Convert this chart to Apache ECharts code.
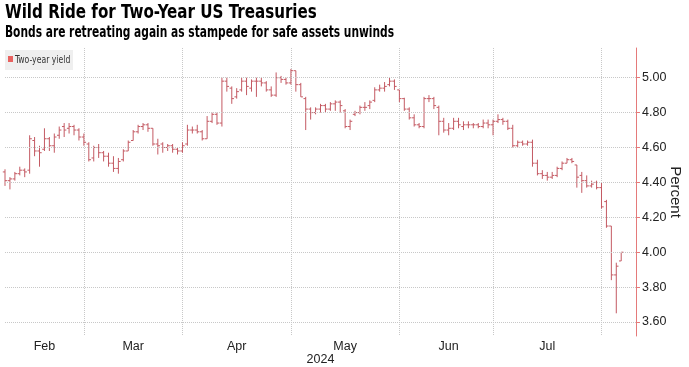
<!DOCTYPE html>
<html><head><meta charset="utf-8">
<script src="https://cdn.jsdelivr.net/npm/echarts@6/dist/echarts.min.js"></script>
<style>html,body{margin:0;padding:0;background:#fff}#c{width:689px;height:367px}</style>
</head><body><div id="c"></div>
<script>
// Trading days shown (2024); last three August days are empty padding on the axis
const febDays=[6,7,8,9,12,13,14,15,16,20,21,22,23,26,27,28,29];
const marDays=[1,4,5,6,7,8,11,12,13,14,15,18,19,20,21,22,25,26,27,28];
const aprDays=[1,2,3,4,5,8,9,10,11,12,15,16,17,18,19,22,23,24,25,26,29,30];
const mayDays=[1,2,3,6,7,8,9,10,13,14,15,16,17,20,21,22,23,24,28,29,30,31];
const junDays=[3,4,5,6,7,10,11,12,13,14,17,18,20,21,24,25,26,27,28];
const julDays=[1,2,3,5,8,9,10,11,12,15,16,17,18,19,22,23,24,25,26,29,30,31];
const augDays=[1,2,5,6,7,8,9];
const monthNames=['Jan','Feb','Mar','Apr','May','Jun','Jul','Aug'];
const labelMonths=['Feb','Mar','Apr','May','Jun','Jul'];

const opens=[4.46,4.41,4.42,4.45,4.47,4.47,4.64,4.58,4.59,4.65,4.61,4.67,4.72,4.71,4.72,4.70,4.66,
4.62,4.54,4.60,4.57,4.55,4.51,4.48,4.53,4.58,4.64,4.69,4.72,4.73,4.71,4.62,4.62,4.60,4.61,4.59,4.58,
4.62,4.70,4.70,4.69,4.65,4.75,4.79,4.74,4.98,4.94,4.89,4.93,4.98,4.94,4.98,4.98,4.97,4.93,4.90,5.00,4.99,4.97,
5.04,4.96,4.88,4.82,4.80,4.82,4.84,4.82,4.85,4.86,4.81,4.72,4.79,4.80,4.83,4.84,4.87,4.93,4.94,4.96,4.98,4.93,
4.88,4.82,4.77,4.73,4.72,4.88,4.88,4.83,4.75,4.70,4.71,4.75,4.72,4.73,4.73,4.73,4.72,4.74,4.73,
4.75,4.76,4.75,4.71,4.61,4.63,4.62,4.63,4.51,4.45,4.44,4.43,4.44,4.48,4.51,4.53,4.50,4.44,4.41,4.38,4.40,4.37,
4.29,4.15,3.87,3.95];
const highs=[4.475,4.43,4.46,4.49,4.48,4.67,4.66,4.61,4.71,4.66,4.68,4.72,4.74,4.74,4.73,4.71,4.68,
4.63,4.61,4.62,4.58,4.57,4.55,4.54,4.59,4.64,4.70,4.73,4.74,4.74,4.71,4.65,4.63,4.62,4.62,4.60,4.63,
4.73,4.72,4.73,4.70,4.78,4.80,4.80,5.00,5.00,4.95,4.94,5.00,5.00,4.99,5.00,5.00,4.98,4.95,5.03,5.01,5.00,5.05,
5.04,4.97,4.89,4.83,4.83,4.85,4.85,4.86,4.87,4.87,4.82,4.76,4.81,4.84,4.86,4.87,4.945,4.96,4.975,5.00,4.99,4.93,
4.885,4.83,4.79,4.74,4.89,4.90,4.89,4.84,4.77,4.74,4.77,4.77,4.75,4.75,4.74,4.74,4.76,4.76,4.76,
4.79,4.77,4.76,4.73,4.64,4.64,4.64,4.645,4.53,4.47,4.46,4.46,4.49,4.52,4.54,4.54,4.50,4.46,4.44,4.41,4.41,4.40,
4.30,4.15,3.94,4.00];
const lows=[4.38,4.36,4.41,4.44,4.43,4.45,4.55,4.49,4.58,4.58,4.57,4.65,4.66,4.68,4.67,4.64,4.61,
4.52,4.52,4.54,4.52,4.49,4.46,4.45,4.52,4.58,4.64,4.68,4.70,4.69,4.61,4.56,4.57,4.58,4.57,4.56,4.57,
4.61,4.68,4.68,4.64,4.65,4.74,4.73,4.72,4.92,4.85,4.88,4.92,4.90,4.92,4.89,4.95,4.92,4.89,4.89,4.97,4.96,4.96,
4.92,4.89,4.70,4.76,4.79,4.80,4.80,4.81,4.81,4.80,4.71,4.70,4.78,4.79,4.81,4.82,4.86,4.92,4.92,4.95,4.93,4.86,
4.81,4.76,4.72,4.71,4.71,4.86,4.82,4.67,4.685,4.67,4.70,4.71,4.70,4.71,4.71,4.71,4.71,4.71,4.67,
4.74,4.73,4.70,4.60,4.60,4.61,4.61,4.49,4.44,4.42,4.41,4.42,4.43,4.47,4.51,4.51,4.37,4.34,4.37,4.37,4.36,4.25,
4.14,3.84,3.65,3.95];
const closes=[4.41,4.42,4.45,4.47,4.46,4.65,4.58,4.57,4.65,4.61,4.66,4.70,4.70,4.72,4.70,4.66,4.63,
4.53,4.60,4.57,4.55,4.51,4.48,4.52,4.58,4.63,4.69,4.72,4.73,4.71,4.62,4.61,4.60,4.61,4.59,4.58,4.61,
4.70,4.70,4.69,4.65,4.75,4.79,4.74,4.98,4.95,4.88,4.92,4.98,4.95,4.98,4.98,4.97,4.93,4.90,5.00,4.99,4.97,5.04,
4.96,4.89,4.82,4.80,4.82,4.84,4.82,4.85,4.86,4.84,4.72,4.75,4.80,4.83,4.83,4.86,4.93,4.94,4.95,4.98,4.95,4.88,
4.82,4.77,4.73,4.72,4.88,4.88,4.84,4.75,4.70,4.71,4.75,4.73,4.73,4.73,4.73,4.72,4.74,4.73,4.75,
4.76,4.75,4.71,4.61,4.63,4.62,4.63,4.51,4.45,4.44,4.43,4.44,4.48,4.51,4.53,4.52,4.43,4.41,4.38,4.39,4.37,4.26,
4.15,3.87,3.92,4.00];
const yTicks=[3.6,3.8,4.0,4.2,4.4,4.6,4.8,5.0];

const pad=n=>String(n).padStart(2,'0');
const categories=[], monthOf=[];
[[1,febDays],[2,marDays],[3,aprDays],[4,mayDays],[5,junDays],[6,julDays],[7,augDays]].forEach(([m,days])=>{
  days.forEach(d=>{categories.push('2024-'+pad(m+1)+'-'+pad(d));monthOf.push(m);});
});
const nData=closes.length;
const splitIdx=[];
for(let i=0;i<nData;i++){ if(monthOf[i+1]!==undefined && monthOf[i]!==monthOf[i+1]) splitIdx.push(i); }
const labelIdx={};
labelMonths.forEach(name=>{
  const m=monthNames.indexOf(name);
  const idx=monthOf.map((v,i)=>v===m?i:-1).filter(i=>i>=0);
  labelIdx[Math.floor((idx[0]+idx[idx.length-1])/2)]=name;
});
const ohlc=closes.map((c,i)=>[i,opens[i],highs[i],lows[i],c]);

const BAR='#c45a63';
const COND="'DejaVu Sans Condensed','DejaVu Sans',sans-serif";
const REG="'Liberation Sans',Arial,sans-serif";

function renderItem(params,api){
  const i=api.value(0);
  const x=api.coord([i,api.value(1)])[0];
  const yo=api.coord([i,api.value(1)])[1];
  const yh=api.coord([i,api.value(2)])[1];
  const yl=api.coord([i,api.value(3)])[1];
  const yc=api.coord([i,api.value(4)])[1];
  const st={stroke:BAR,lineWidth:1};
  return {type:'group',children:[
    {type:'line',shape:{x1:x,y1:yh,x2:x,y2:yl},style:st},
    {type:'line',shape:{x1:x-2.2,y1:yo,x2:x,y2:yo},style:st},
    {type:'line',shape:{x1:x,y1:yc,x2:x+2.2,y2:yc},style:st}
  ]};
}

const chart=echarts.init(document.getElementById('c'),null,{renderer:'canvas'});
chart.setOption({
  animation:false,
  backgroundColor:'#fff',
  graphic:[
    {type:'text',left:5,top:4,scaleX:0.885,originX:0,
      style:{text:'Wild Ride for Two-Year US Treasuries',font:'bold 19px '+COND,fill:'#000'}},
    {type:'text',left:5,top:26,scaleX:0.79,originX:0,
      style:{text:'Bonds are retreating again as stampede for safe assets unwinds',font:'bold 15px '+COND,fill:'#000'}},
    {type:'rect',shape:{x:5,y:50,width:68,height:20},style:{fill:'#efefef'}},
    {type:'rect',shape:{x:8,y:56,width:5,height:6},style:{fill:'#e8615f'}},
    {type:'text',x:15,y:60,scaleX:0.78,
      style:{text:'Two-year yield',font:'11px '+COND,fill:'#333',verticalAlign:'middle'}}
  ],
  grid:{left:5,right:53,top:48,bottom:31,containLabel:false,outerBoundsMode:'none'},
  xAxis:{
    type:'category',data:categories,boundaryGap:false,
    axisLine:{show:false},axisTick:{show:false},
    axisLabel:{
      interval:(i)=>labelIdx[i]!==undefined,
      formatter:(v,i)=>labelIdx[i]||'',
      color:'#222',fontFamily:REG,fontSize:12.5,margin:4
    },
    splitLine:{show:true,interval:(i)=>splitIdx.includes(i),lineStyle:{color:'#c8c8c8',type:'dotted',width:1}},
    name:'2024',nameLocation:'middle',nameGap:17,nameMoveOverlap:false,
    nameTextStyle:{color:'#222',fontFamily:REG,fontSize:12.5}
  },
  yAxis:{
    type:'value',position:'right',min:3.52,max:5.17,
    axisLine:{show:true,lineStyle:{color:'#e57a7a',width:1}},
    axisTick:{show:true,length:4,customValues:yTicks,lineStyle:{color:'#e57a7a'}},
    axisLabel:{customValues:yTicks,formatter:v=>v.toFixed(2),color:'#222',fontFamily:REG,fontSize:12.5,margin:6},
    splitLine:{show:false},
    name:'Percent',nameLocation:'middle',nameRotate:-90,nameGap:32,nameMoveOverlap:false,
    nameTextStyle:{color:'#222',fontFamily:REG,fontSize:15}
  },
  series:[{
    name:'Two-year yield',type:'custom',renderItem:renderItem,
    encode:{x:0,y:[1,2,3,4]},data:ohlc,
    markLine:{silent:true,symbol:['none','none'],label:{show:false},
      lineStyle:{color:'#c8c8c8',type:'dotted',width:1},
      data:yTicks.map(v=>({yAxis:v}))}
  }]
});
</script></body></html>
